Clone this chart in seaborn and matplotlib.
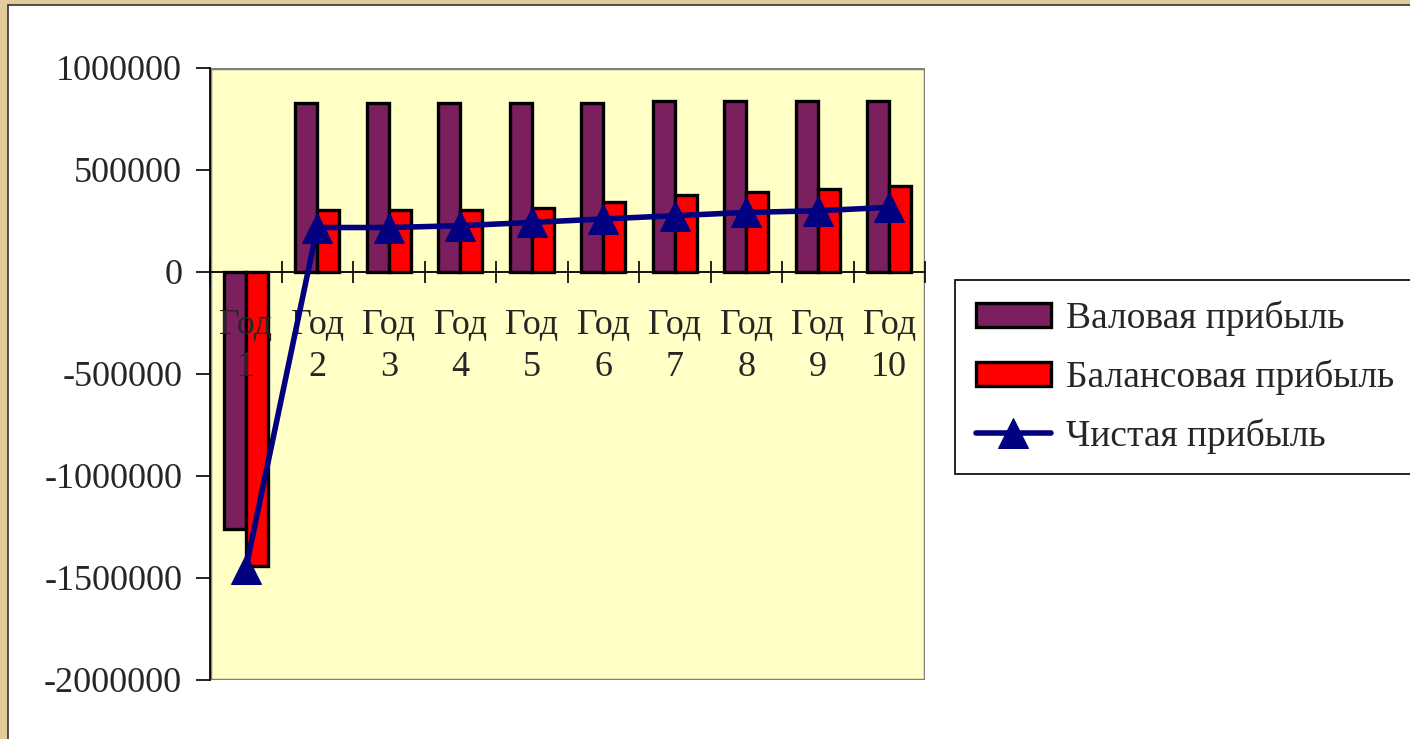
import numpy as np
import pandas as pd
import matplotlib
matplotlib.use("Agg")
import matplotlib.pyplot as plt
from matplotlib.patches import Rectangle
from matplotlib.ticker import FuncFormatter, FixedLocator
import seaborn as sns

# Values
years = ["Год\n1", "Год\n2", "Год\n3", "Год\n4", "Год\n5",
         "Год\n6", "Год\n7", "Год\n8", "Год\n9", "Год\n10"]
gross = [-1260000, 830000, 830000, 830000, 830000, 830000, 840000, 840000, 840000, 840000]
balance = [-1440000, 305000, 305000, 305000, 315000, 345000, 375000, 390000, 405000, 420000]
net = [-1455000, 218000, 218000, 227000, 243000, 260000, 276000, 292000, 300000, 317000]
series = ["Валовая прибыль", "Балансовая прибыль", "Чистая прибыль"]
yticks = [-2000000, -1500000, -1000000, -500000, 0, 500000, 1000000]

sns.set_style("white")
plt.rcParams["font.family"] = ["Liberation Serif", "DejaVu Serif"]

df = pd.DataFrame({
    "year": years * 2,
    "value": gross + balance,
    "series": [series[0]] * len(years) + [series[1]] * len(years),
})

fig = plt.figure(figsize=(14.1, 7.39), dpi=100)
fig.patch.set_facecolor("#e3cc9c")
# white slide area with thin dark border
fig.patches.append(Rectangle((8 / 1410, -0.02), 1.1, 1 - 5 / 739 + 0.02,
                             transform=fig.transFigure, facecolor="white",
                             edgecolor="#333333", linewidth=1.2, zorder=-10))

ax = fig.add_axes([210 / 1410, 59 / 739, 715 / 1410, 612 / 739])
ax.set_facecolor("#ffffc6")
ax.set_axisbelow(False)

sns.barplot(data=df, x="year", y="value", hue="series", hue_order=series[:2],
            palette=["#7b1f5e", "#ff0000"], width=0.62, edgecolor="black",
            linewidth=2.4, saturation=1, ax=ax, zorder=2)
sns.lineplot(x=np.arange(len(years)), y=net, color="#000080", linewidth=4,
             marker="^", markersize=22, markeredgecolor="#000080",
             label=series[2], ax=ax, zorder=4)

ax.set_xlim(-0.5, len(years) - 0.5)
ax.set_ylim(-2000000, 1000000)
ax.set_xlabel("")
ax.set_ylabel("")

# x axis crosses at zero
ax.spines["bottom"].set_position(("data", 0))
ax.spines["bottom"].set_color("black")
ax.spines["bottom"].set_linewidth(1.3)
ax.spines["left"].set_color("black")
ax.spines["left"].set_linewidth(1.3)
ax.spines["top"].set_visible(False)
ax.spines["right"].set_visible(False)
ax.add_patch(Rectangle((0, 0), 1, 1, transform=ax.transAxes, fill=False,
                       edgecolor="#808080", linewidth=2.5, zorder=1))

ax.set_xticks(range(len(years)), years)
ax.xaxis.set_minor_locator(FixedLocator(np.arange(-0.5, len(years), 1)))
ax.tick_params(axis="x", which="major", length=0, pad=27, labelsize=26,
               bottom=True)
ax.tick_params(axis="x", which="minor", direction="inout", length=16,
               width=1.2, color="black", bottom=True)
for t in ax.get_xticklabels():
    t.set_linespacing(1.35)

ax.set_yticks(yticks)
ax.yaxis.set_major_formatter(FuncFormatter(lambda v, p: str(int(v))))
ax.tick_params(axis="y", direction="out", length=10, width=1.2, pad=10,
               labelsize=26, left=True, color="black")

handles, labels = ax.get_legend_handles_labels()
leg = ax.legend(handles, labels, loc="upper left",
                bbox_to_anchor=(955 / 1410, 1 - 280 / 739),
                bbox_transform=fig.transFigure, borderaxespad=0, fontsize=27,
                frameon=True, fancybox=False, edgecolor="black", framealpha=1,
                handlelength=2.0, handleheight=0.6, labelspacing=0.62,
                borderpad=0.55, handletextpad=0.4)
leg.get_frame().set_linewidth(1.2)

fig.savefig("out.png", dpi=100, facecolor=fig.get_facecolor())
